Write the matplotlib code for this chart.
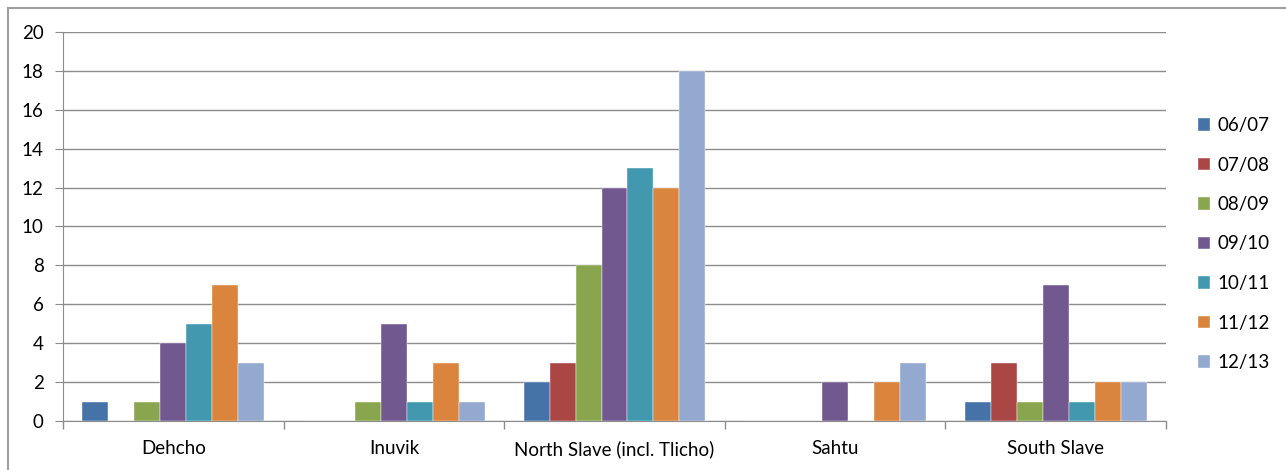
import matplotlib
matplotlib.use("Agg")
import matplotlib.pyplot as plt
from matplotlib.lines import Line2D
import numpy as np

regions = ["Dehcho", "Inuvik", "North Slave (incl. Tlicho)", "Sahtu", "South Slave"]
years = ["06/07", "07/08", "08/09", "09/10", "10/11", "11/12", "12/13"]
v0607 = [1, 0, 2, 0, 1]
v0708 = [0, 0, 3, 0, 3]
v0809 = [1, 1, 8, 0, 1]
v0910 = [4, 5, 12, 2, 7]
v1011 = [5, 1, 13, 0, 1]
v1112 = [7, 3, 12, 2, 2]
v1213 = [3, 1, 18, 3, 2]
series = [v0607, v0708, v0809, v0910, v1011, v1112, v1213]
colors = ["#4572A7", "#AA4643", "#89A54E", "#71588F", "#4198AF", "#DB843D", "#93A9CF"]
yticks = list(range(0, 21, 2))

plt.rcParams['font.family'] = ['Lato', 'DejaVu Sans']
FS = 13.5
W, H = 1286, 470
fig = plt.figure(figsize=(W / 100, H / 100), dpi=100)
ax = fig.add_axes([63 / W, 1 - 421 / H, (1166 - 63) / W, (421 - 32) / H])

# figure border (top and left visible)
fig.add_artist(Line2D([8 / W, 8 / W], [0, 1 - 8 / H], transform=fig.transFigure,
                      color="#A0A0A0", lw=1.5))
fig.add_artist(Line2D([8 / W, 1], [1 - 8 / H, 1 - 8 / H], transform=fig.transFigure,
                      color="#A0A0A0", lw=1.5))

n = len(series)
bw = 1 / 8.5
x = np.arange(len(regions))
for i, (vals, c) in enumerate(zip(series, colors)):
    offs = (i - (n - 1) / 2) * bw
    ax.bar(x + offs, vals, width=bw, color=c, edgecolor="white", linewidth=0.3,
           label=years[i], zorder=3)

ax.set_xlim(-0.5, len(regions) - 0.5)
ax.set_ylim(0, 20)
ax.set_yticks(yticks)
ax.set_yticklabels([str(t) for t in yticks], fontsize=FS)
ax.yaxis.grid(True, color="#8C8C8C", lw=1.0, zorder=0)
ax.tick_params(axis='y', length=6, color="#8C8C8C", pad=8)

ax.set_xticks(x)
ax.set_xticklabels(regions, fontsize=FS)
ax.tick_params(axis='x', length=0, pad=14)
ax.set_xticks(np.arange(-0.5, len(regions)), minor=True)
ax.tick_params(axis='x', which='minor', length=6, color="#8C8C8C", width=1.0)

for s in ['top', 'right']:
    ax.spines[s].set_visible(False)
ax.spines['left'].set_color("#8C8C8C")
ax.spines['bottom'].set_color("#8C8C8C")

leg = fig.legend(loc='upper left', bbox_to_anchor=(1198 / W, 1 - 117 / H), frameon=False,
                 fontsize=FS, handlelength=0.65, handleheight=0.65, handletextpad=0.4,
                 labelspacing=1.2, borderaxespad=0, borderpad=0)

fig.savefig("out.png", dpi=100, facecolor="white")
